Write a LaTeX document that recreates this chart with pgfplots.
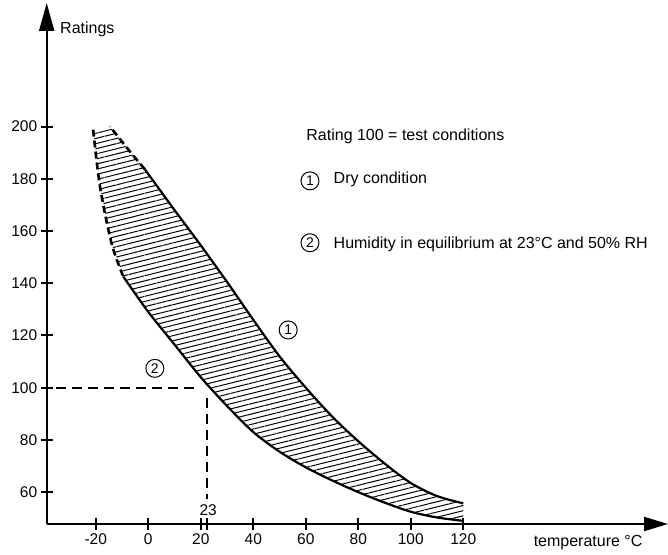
\documentclass[border=0pt]{standalone}
\usepackage{fontspec}
\setmainfont{Liberation Sans}
\usepackage{pgfplots}
\pgfplotsset{compat=1.18}
\usetikzlibrary{arrows.meta, patterns.meta}

\begin{document}
\begin{tikzpicture}
\begin{axis}[
  at={(0,0)}, anchor=south west, scale only axis,
  width=621.3pt, height=521pt,
  xmin=-38.7, xmax=198, ymin=47.8, ymax=247.3,
  axis lines=left,
  axis line style={line width=2.1pt, black},
  x axis line style={-{Triangle[length=24pt,width=14pt]}},
  y axis line style={-{Triangle[length=28pt,width=15pt]}},
  xtick={-20,0,20,40,60,80,100,120},
  xticklabels={-20,0,20,40,60,80,100,120},
  ytick={60,80,100,120,140,160,180,200},
  yticklabels={60,80,100,120,140,160,180,200},
  extra x ticks={22.5}, extra x tick labels={},
  major tick length=12pt, tick align=center,
  tick style={line width=2pt, black},
  ticklabel style={font=\fontsize{15.5}{18}\selectfont},
  no markers, clip=false,
]
% hatched band between the two curves
\addplot[draw=none, pattern={Lines[angle=14, distance=5pt, line width=1pt]}] coordinates {
  (-9.5,142.5) (0,129) (10,116.5) (20,104) (30,93) (40,83) (50,75.5) (60,69.5)
  (70,64.5) (80,60) (90,56) (100,52.5) (110,50.3) (120,49)
  (120,55.7) (110,58.5) (100,63.5) (90,71) (80,79.5) (70,89) (60,100) (50,112)
  (40,126) (30,140.5) (20,154.5) (10,168) (-1.3,183.6)
  (-7,190.4) (-14.6,200) (-21,198.8) (-18.4,177) (-14,155.3)};
% 1: dry
\addplot[black, line width=2.2pt, smooth] coordinates {
  (-1.3,183.6) (10,168) (20,154.5) (30,140.5) (40,126) (50,112) (60,100)
  (70,89) (80,79.5) (90,71) (100,63.5) (110,58.5) (120,55.7)};
% 2: humid
\addplot[black, line width=2.2pt, smooth] coordinates {
  (-9.5,142.5) (0,129) (10,116.5) (20,104) (30,93) (40,83) (50,75.5) (60,69.5)
  (70,64.5) (80,60) (90,56) (100,52.5) (110,50.3) (120,49)};
% dashed ends of the band
\addplot[black, line width=2.6pt, dash pattern=on 7pt off 4pt] coordinates {
  (-1.3,183.6) (-7,190.4) (-14.6,200)};
\addplot[black, line width=2.6pt, dash pattern=on 7pt off 4pt, smooth] coordinates {
  (-21,198.8) (-18.4,177) (-14,155.3) (-9.5,142.5)};
% guide lines at rating 100 / 23 C
\addplot[black, line width=2pt, dash pattern=on 10pt off 6pt] coordinates {(-35,100) (17.5,100)};
\addplot[black, line width=2pt, dash pattern=on 10pt off 6pt] coordinates {(22.5,96) (22.5,57.5)};

\node[anchor=base, font=\fontsize{15.5}{18}\selectfont] at (axis cs:22.8,51) {23};
\node[anchor=base west, font=\fontsize{16}{19}\selectfont] at (axis cs:-34.9,235.8) {Ratings};
\node[anchor=base east, yshift=-22.7pt, font=\fontsize{16}{19}\selectfont] at (axis cs:189.6,47.8) {temperature °C};
\node[anchor=base west, font=\fontsize{16}{19}\selectfont] at (axis cs:58.9,194.8) {Rating 100 = test conditions};
\node[anchor=base west, font=\fontsize{16}{19}\selectfont] at (axis cs:69.3,178) {Dry condition};
\node[anchor=base west, font=\fontsize{16}{19}\selectfont] at (axis cs:69.3,153.4) {Humidity in equilibrium at 23°C and 50\% RH};
\tikzset{circnum/.style={circle, draw, line width=1pt, minimum size=18pt, inner sep=0pt, font=\fontsize{14}{14}\selectfont}}
\node[circnum] at (axis cs:61.6,179.2) {1};
\node[circnum] at (axis cs:61.6,155.5) {2};
\node[circnum] at (axis cs:53.3,122.1) {1};
\node[circnum] at (axis cs:2.5,107.4) {2};
\end{axis}
\pgfresetboundingbox
\path (-46.7pt,-30pt) rectangle (621.3pt,524pt);
\end{tikzpicture}
\end{document}
